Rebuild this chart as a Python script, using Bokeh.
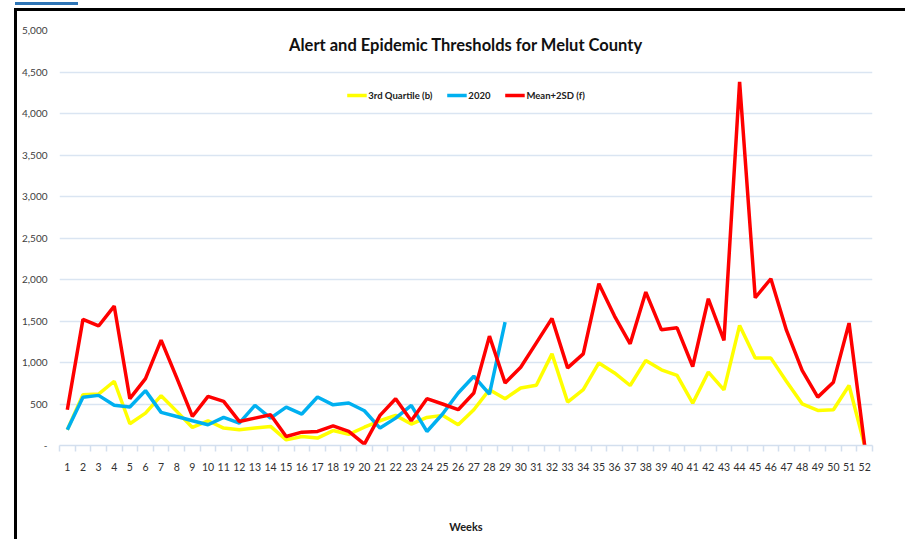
from bokeh.plotting import figure
from bokeh.models import (Range1d, FixedTicker, CustomJSTickFormatter, Label,
                          Legend, LegendItem, Div)
from bokeh.layouts import column
from bokeh.embed import file_html
from bokeh.resources import INLINE

weeks = list(range(1, 53))
week_labels = [str(w) for w in weeks]

third_quartile = [190, 612, 620, 774, 262, 390, 600, 411, 218, 298, 210, 190, 210, 230,
                  68, 109, 89, 180, 135, 220, 298, 363, 258, 338, 363, 250, 431, 673,
                  564, 693, 725, 1104, 524, 673, 995, 874, 723, 1025, 912, 844, 510, 884,
                  671, 1447, 1053, 1053, 771, 502, 422, 430, 723, 0]

y2020 = [190, 580, 604, 484, 463, 661, 399, 350, 298, 250, 338, 270, 484, 330, 463,
         379, 584, 490, 512, 419, 210, 330, 484, 169, 379, 633, 834, 620, 1487]

mean_2sd = [430, 1520, 1440, 1680, 564, 806, 1270, 814, 350, 592, 532, 290, 330, 370,
            109, 161, 170, 236, 170, 16, 363, 564, 298, 564, 500, 431, 633, 1318, 754,
            943, 1237, 1531, 935, 1104, 1950, 1560, 1225, 1848, 1394, 1418, 952, 1768,
            1266, 4380, 1780, 2009, 1386, 904, 583, 763, 1475, 0]

y_ticks = list(range(0, 5001, 500))

title_text = "Alert and Epidemic Thresholds for Melut County"
x_title = "Weeks"

FONT = "Lato"

p = figure(width=891, height=531, output_backend="svg", toolbar_location=None,
           x_range=Range1d(0.5, 52.5), y_range=Range1d(0, 5000),
           min_border_left=42, min_border_right=36, min_border_top=19,
           min_border_bottom=97, margin=(3, 0, 0, 14),
           styles={"border-top": "3px solid #000", "border-left": "3px solid #000"})
p.outline_line_color = None
p.background_fill_color = "white"
p.border_fill_color = "white"

# grid
p.xgrid.grid_line_color = None
p.ygrid.ticker = FixedTicker(ticks=y_ticks[1:])
p.ygrid.grid_line_color = "#dae5f2"
p.ygrid.grid_line_width = 1.5

# y axis
p.yaxis.ticker = FixedTicker(ticks=y_ticks)
p.yaxis.formatter = CustomJSTickFormatter(code="""
    return tick == 0 ? "-" : tick.toLocaleString("en-US");
""")
p.yaxis.axis_line_color = None
p.yaxis.major_tick_line_color = None
p.yaxis.minor_tick_line_color = None
p.yaxis.major_tick_out = 0
p.yaxis.major_label_standoff = 12
p.yaxis.major_label_text_font = FONT
p.yaxis.major_label_text_font_size = "10px"
p.yaxis.major_label_text_color = "#404040"

# x axis
p.xaxis.ticker = FixedTicker(ticks=weeks, minor_ticks=[w - 0.5 for w in weeks] + [weeks[-1] + 0.5])
p.xaxis.major_label_overrides = {w: s for w, s in zip(weeks, week_labels)}
p.xaxis.axis_line_color = "#d3dfee"
p.xaxis.axis_line_width = 1.5
p.xaxis.major_tick_line_color = None
p.xaxis.major_tick_out = 0
p.xaxis.major_tick_in = 0
p.xaxis.minor_tick_line_color = "#d3dfee"
p.xaxis.minor_tick_line_width = 1.5
p.xaxis.minor_tick_out = 6
p.xaxis.minor_tick_in = 0
p.xaxis.major_label_standoff = 11
p.xaxis.major_label_text_font = FONT
p.xaxis.major_label_text_font_size = "10.5px"
p.xaxis.major_label_text_color = "#303030"
p.xaxis.axis_label = x_title
p.xaxis.axis_label_standoff = 46
p.xaxis.axis_label_text_font = FONT
p.xaxis.axis_label_text_font_size = "11px"
p.xaxis.axis_label_text_font_style = "bold"
p.xaxis.axis_label_text_color = "#202020"
p.xaxis.axis_label_text_align = "left"

r_q = p.line(weeks, third_quartile, line_color="#ffff00", line_width=3.5)
r_b = p.line(weeks[:len(y2020)], y2020, line_color="#00b0f0", line_width=3.5)
r_r = p.line(weeks, mean_2sd, line_color="#ff0000", line_width=3.5)

legend = Legend(items=[LegendItem(label="3rd Quartile (b)", renderers=[r_q]),
                       LegendItem(label="2020", renderers=[r_b]),
                       LegendItem(label="Mean+2SD (f)", renderers=[r_r])],
                orientation="horizontal", location="top_center",
                background_fill_alpha=0, border_line_color=None,
                label_text_font=FONT, label_text_font_size="9.5px",
                label_text_font_style="bold", label_text_color="#202020",
                glyph_width=20, glyph_height=12, label_height=12,
                label_standoff=2, spacing=14, padding=0, margin=59)
p.add_layout(legend)

p.add_layout(Label(x=26.5, y=4830, text=title_text, text_align="center",
                   text_baseline="middle", text_font=FONT, text_font_size="16.5px",
                   text_font_style="bold", text_color="#111111"))

bar = Div(text="", width=63, height=3, margin=(2, 0, 0, 15),
          styles={"background-color": "#2e75b6"})

root = column(bar, p, spacing=0)
open("out.html", "w").write(file_html(root, INLINE))
